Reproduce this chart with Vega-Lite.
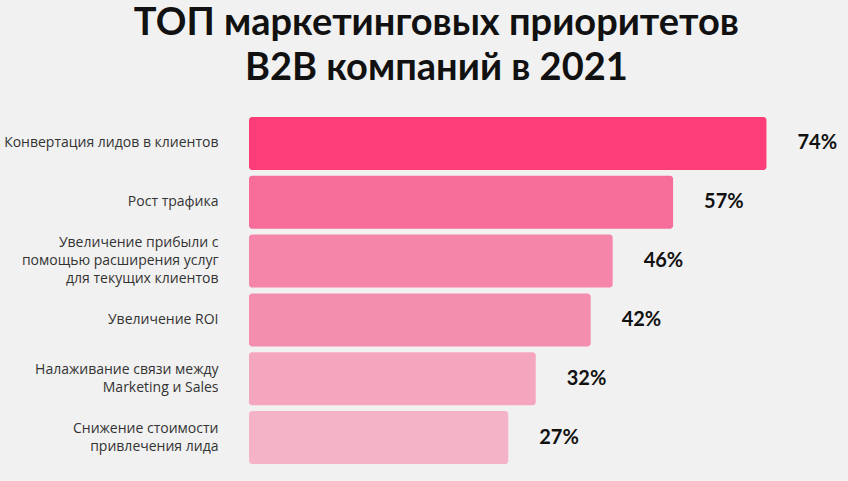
{
  "$schema": "https://vega.github.io/schema/vega-lite/v6.json",
  "width": 596,
  "height": 353,
  "autosize": {"type": "none"},
  "padding": {"left": 249, "top": 114, "right": 3, "bottom": 14},
  "background": "#f1f1f1",
  "title": {
    "text": ["ТОП маркетинговых приоритетов", "B2B компаний в 2021"],
    "font": "Lato",
    "fontSize": 38,
    "fontWeight": "bold",
    "color": "#111111",
    "anchor": "middle",
    "frame": "bounds",
    "lineHeight": 45,
    "offset": 26,
    "dx": 12
  },
  "config": {"view": {"stroke": null}},
  "data": {
    "values": [
      {"label": "Конвертация лидов в клиентов", "value": 74, "text": "74%"},
      {"label": "Рост трафика", "value": 57, "text": "57%"},
      {"label": "Увеличение прибыли с|помощью расширения услуг|для текущих клиентов", "value": 46, "text": "46%"},
      {"label": "Увеличение ROI", "value": 42, "text": "42%"},
      {"label": "Налаживание связи между|Marketing и Sales", "value": 32, "text": "32%"},
      {"label": "Снижение стоимости|привлечения лида", "value": 27, "text": "27%"}
    ]
  },
  "encoding": {
    "y": {
      "field": "label",
      "type": "nominal",
      "sort": null,
      "scale": {"paddingInner": 0.1, "paddingOuter": 0.05},
      "axis": {
        "title": null,
        "domain": false,
        "ticks": false,
        "labelPadding": 31,
        "labelFont": "Open Sans",
        "labelFontSize": 14,
        "labelColor": "#333333",
        "labelLineHeight": 18,
        "labelLimit": 300,
        "labelExpr": "split(datum.label, '|')",
        "labelOffset": {
          "condition": [
            {"test": "length(split(datum.label, '|')) == 3", "value": -18},
            {"test": "length(split(datum.label, '|')) == 2", "value": -9}
          ],
          "value": 0
        }
      }
    }
  },
  "layer": [
    {
      "mark": {"type": "bar", "cornerRadius": 3},
      "encoding": {
        "x": {
          "field": "value",
          "type": "quantitative",
          "scale": {"domain": [-20.2, 88.3], "zero": false, "nice": false},
          "axis": null
        },
        "x2": {"datum": -20.2},
        "color": {
          "field": "label",
          "type": "nominal",
          "sort": null,
          "legend": null,
          "scale": {
            "range": ["#fd3d77", "#f56d98", "#f585a9", "#f48eaf", "#f5a6bf", "#f5b3c8"]
          }
        }
      }
    },
    {
      "mark": {"type": "text", "align": "left", "baseline": "middle", "dx": 31, "font": "Lato", "fontSize": 20, "fontWeight": "bold", "color": "#111111"},
      "encoding": {
        "x": {"field": "value", "type": "quantitative"},
        "text": {"field": "text"}
      }
    }
  ]
}
